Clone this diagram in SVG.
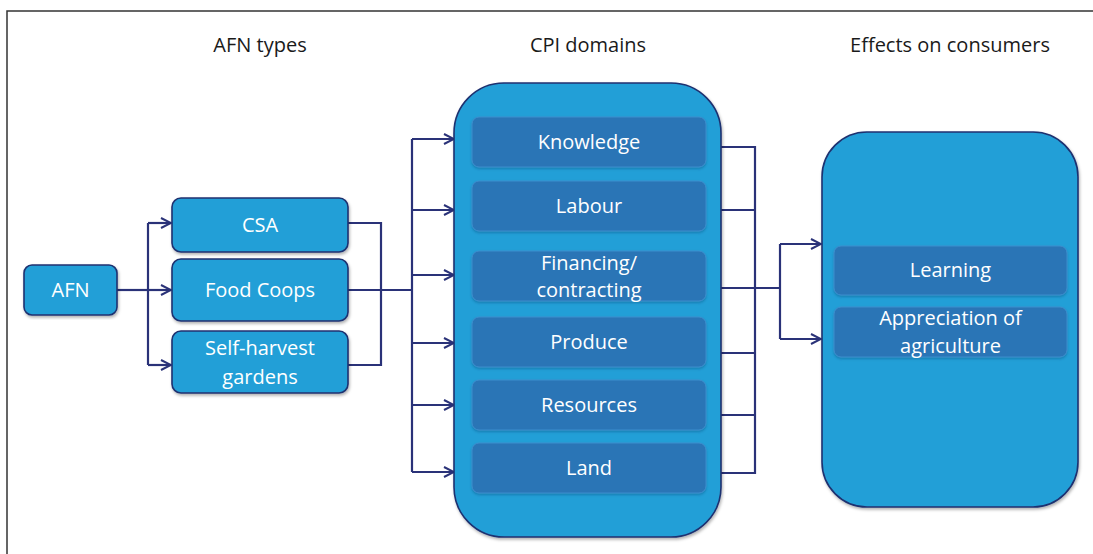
<svg xmlns="http://www.w3.org/2000/svg" width="1093" height="554" viewBox="0 0 1093 554">
<style>
.hdr{font-family:"Open Sans","Liberation Sans",sans-serif;font-size:20px;fill:#1a1a1a;text-anchor:middle}
.lbl{font-family:"Open Sans","Liberation Sans",sans-serif;font-size:20px;fill:#ffffff;text-anchor:middle}
.box{fill:#249fd7;stroke:#1f3170;stroke-width:1.6}
.inner{fill:#2a74b6;stroke:#3d8fce;stroke-width:1}
.con{fill:none;stroke:#2a3278;stroke-width:2.2}
</style>
<defs>
<marker id="arr" viewBox="0 0 12 12" refX="11" refY="6" markerWidth="12" markerHeight="12" markerUnits="userSpaceOnUse" orient="auto">
<path d="M1,1 L11,6 L1,11" fill="none" stroke="#2a3278" stroke-width="2"/>
</marker>
<filter id="sh" x="-10%" y="-10%" width="120%" height="120%">
<feDropShadow dx="1" dy="2" stdDeviation="1.5" flood-color="#000" flood-opacity="0.3"/>
</filter>
<filter id="sh2" x="-10%" y="-10%" width="120%" height="130%">
<feDropShadow dx="0" dy="1.5" stdDeviation="1" flood-color="#0a3a6a" flood-opacity="0.35"/>
</filter>
</defs>
<rect width="1093" height="554" fill="#ffffff"/>
<path d="M7,554 V11 H1093" fill="none" stroke="#333333" stroke-width="1.5"/>
<text class="hdr" x="260" y="52">AFN types</text>
<text class="hdr" x="588" y="52">CPI domains</text>
<text class="hdr" x="950" y="52">Effects on consumers</text>
<g id="connectors">
<path class="con" d="M117,290 H148"/>
<path class="con" d="M148,223 V365"/>
<path class="con" marker-end="url(#arr)" d="M148,223 H171"/>
<path class="con" marker-end="url(#arr)" d="M148,290 H171"/>
<path class="con" marker-end="url(#arr)" d="M148,365 H171"/>
<path class="con" d="M348,223 H381 V365 H348"/>
<path class="con" d="M348,290 H412"/>
<path class="con" d="M412,139 V472"/>
<path class="con" marker-end="url(#arr)" d="M412,139 H454"/>
<path class="con" marker-end="url(#arr)" d="M412,210 H454"/>
<path class="con" marker-end="url(#arr)" d="M412,275 H454"/>
<path class="con" marker-end="url(#arr)" d="M412,343 H454"/>
<path class="con" marker-end="url(#arr)" d="M412,405 H454"/>
<path class="con" marker-end="url(#arr)" d="M412,472 H454"/>
<path class="con" d="M721,147 H755 V473 H721"/>
<path class="con" d="M721,210 H755"/>
<path class="con" d="M721,353 H755"/>
<path class="con" d="M721,415 H755"/>
<path class="con" d="M721,288 H780"/>
<path class="con" d="M780,244 V339"/>
<path class="con" marker-end="url(#arr)" d="M780,244 H821"/>
<path class="con" marker-end="url(#arr)" d="M780,339 H821"/>
</g>
<g id="afn">
<rect class="box" x="24" y="265" width="93" height="50" rx="8" filter="url(#sh)"/>
<text class="lbl" x="70.5" y="297">AFN</text>
</g>
<g id="csa">
<rect class="box" x="172" y="198" width="176" height="54" rx="9" filter="url(#sh)"/>
<text class="lbl" x="260" y="232">CSA</text>
</g>
<g id="foodcoops">
<rect class="box" x="172" y="259" width="176" height="62" rx="9" filter="url(#sh)"/>
<text class="lbl" x="260" y="297">Food Coops</text>
</g>
<g id="selfharvest">
<rect class="box" x="172" y="331" width="176" height="62" rx="9" filter="url(#sh)"/>
<text class="lbl" x="260" y="355">Self-harvest</text>
<text class="lbl" x="260" y="384">gardens</text>
</g>
<g id="cpi">
<rect class="box" x="454" y="83" width="267" height="454" rx="50" filter="url(#sh)"/>
<g id="knowledge"><rect class="inner" x="472" y="117" width="234" height="50" rx="7" filter="url(#sh2)"/><text class="lbl" x="589" y="149">Knowledge</text></g>
<g id="labour"><rect class="inner" x="472" y="181" width="234" height="50" rx="7" filter="url(#sh2)"/><text class="lbl" x="589" y="213">Labour</text></g>
<g id="financing"><rect class="inner" x="472" y="251" width="234" height="50" rx="7" filter="url(#sh2)"/><text class="lbl" x="589" y="270">Financing/</text><text class="lbl" x="589" y="297">contracting</text></g>
<g id="produce"><rect class="inner" x="472" y="317" width="234" height="50" rx="7" filter="url(#sh2)"/><text class="lbl" x="589" y="349">Produce</text></g>
<g id="resources"><rect class="inner" x="472" y="380" width="234" height="50" rx="7" filter="url(#sh2)"/><text class="lbl" x="589" y="412">Resources</text></g>
<g id="land"><rect class="inner" x="472" y="443" width="234" height="50" rx="7" filter="url(#sh2)"/><text class="lbl" x="589" y="475">Land</text></g>
</g>
<g id="effects">
<rect class="box" x="822" y="132" width="256" height="375" rx="45" filter="url(#sh)"/>
<g id="learning"><rect class="inner" x="834" y="246" width="233" height="49" rx="7" filter="url(#sh2)"/><text class="lbl" x="950.5" y="277">Learning</text></g>
<g id="appreciation"><rect class="inner" x="834" y="307" width="233" height="50" rx="7" filter="url(#sh2)"/><text class="lbl" x="950.5" y="325">Appreciation of</text><text class="lbl" x="950.5" y="353">agriculture</text></g>
</g>
</svg>
